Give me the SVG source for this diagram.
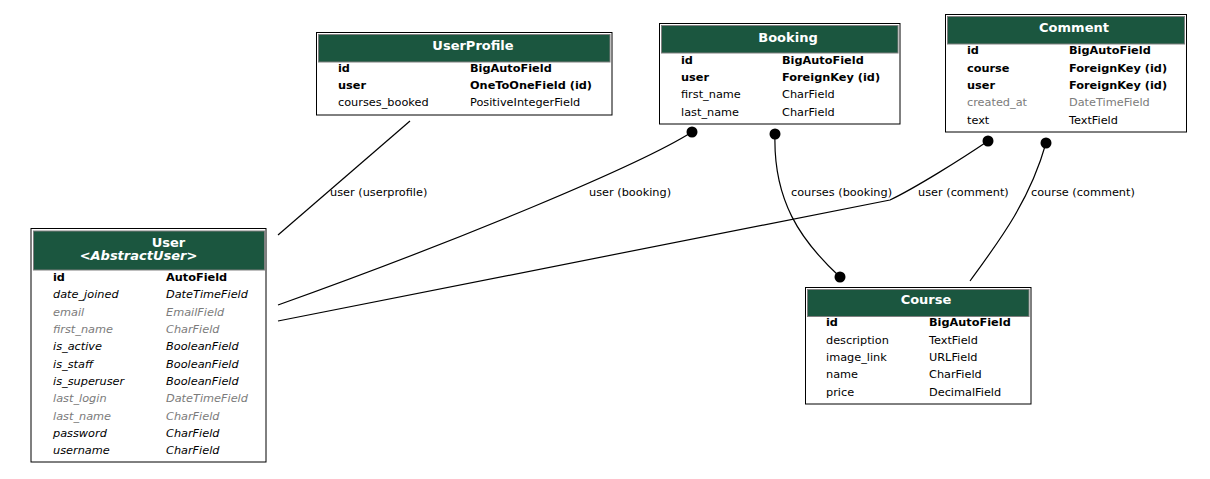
<svg xmlns="http://www.w3.org/2000/svg" width="1210" height="479" viewBox="0 0 1210 479">
<style>
text{font-family:"DejaVu Sans",Verdana,sans-serif;font-size:11.3px;fill:#000}
.t{font-size:13px;font-weight:bold;fill:#fff;text-anchor:middle}
.ti{font-size:13px;font-weight:bold;font-style:italic;fill:#fff;text-anchor:middle}
.b{font-weight:bold}
.g{fill:#7b7b7b}
.i{font-style:italic}
.box{fill:#fff;stroke:#000;stroke-width:1}
.hdr{fill:#1b563f;stroke:#7f7f7f;stroke-width:1}
.edge{fill:none;stroke:#000;stroke-width:1.2}
.lbl{font-size:11.3px}
</style>
<defs>
<marker id="dot" markerWidth="14" markerHeight="14" refX="7" refY="7" markerUnits="userSpaceOnUse"><circle cx="7" cy="7" r="5.5" fill="#000"/></marker>
</defs>
<rect width="1210" height="479" fill="#fff"/>

<g id="connectors">
<path class="edge" d="M410,121 L278,235"/>
<text class="lbl" x="330" y="196">user (userprofile)</text>
<path class="edge" d="M692,132 C640,165 460,240 278,305" marker-start="url(#dot)"/>
<text class="lbl" x="589" y="196">user (booking)</text>
<path class="edge" d="M988,141 C960,160 915,188 890,200 L278,321" marker-start="url(#dot)"/>
<text class="lbl" x="918" y="196">user (comment)</text>
<path class="edge" d="M775,134 C773,200 800,240 840,277" marker-start="url(#dot)" marker-end="url(#dot)"/>
<text class="lbl" x="791" y="196">courses (booking)</text>
<path class="edge" d="M1046,143 C1030,200 1000,240 970,281" marker-start="url(#dot)"/>
<text class="lbl" x="1031" y="196">course (comment)</text>
</g>

<g id="User">
<rect class="box" x="31" y="228.5" width="235" height="233.5"/>
<rect class="hdr" x="33.5" y="231" width="231" height="39"/>
<text class="t" x="168.5" y="247">User</text>
<text class="ti" x="138.5" y="260">&lt;AbstractUser&gt;</text>
<text class="b" x="53" y="281">id</text><text class="b" x="166" y="281">AutoField</text>
<text class="i" x="53" y="298">date_joined</text><text class="i" x="166" y="298">DateTimeField</text>
<text class="i g" x="53" y="316">email</text><text class="i g" x="166" y="316">EmailField</text>
<text class="i g" x="53" y="333">first_name</text><text class="i g" x="166" y="333">CharField</text>
<text class="i" x="53" y="350">is_active</text><text class="i" x="166" y="350">BooleanField</text>
<text class="i" x="53" y="368">is_staff</text><text class="i" x="166" y="368">BooleanField</text>
<text class="i" x="53" y="385">is_superuser</text><text class="i" x="166" y="385">BooleanField</text>
<text class="i g" x="53" y="402">last_login</text><text class="i g" x="166" y="402">DateTimeField</text>
<text class="i g" x="53" y="420">last_name</text><text class="i g" x="166" y="420">CharField</text>
<text class="i" x="53" y="437">password</text><text class="i" x="166" y="437">CharField</text>
<text class="i" x="53" y="454">username</text><text class="i" x="166" y="454">CharField</text>
</g>

<g id="UserProfile">
<rect class="box" x="316.5" y="32.5" width="295.5" height="82.5"/>
<rect class="hdr" x="318.5" y="34.5" width="291.5" height="27.5"/>
<text class="t" x="473" y="50">UserProfile</text>
<text class="b" x="338" y="72">id</text><text class="b" x="470" y="72">BigAutoField</text>
<text class="b" x="338" y="89">user</text><text class="b" x="470" y="89">OneToOneField (id)</text>
<text x="338" y="106">courses_booked</text><text x="470" y="106">PositiveIntegerField</text>
</g>

<g id="Booking">
<rect class="box" x="659.5" y="23.5" width="240.5" height="100.5"/>
<rect class="hdr" x="661.5" y="25.5" width="236.5" height="27.5"/>
<text class="t" x="788" y="42">Booking</text>
<text class="b" x="681" y="64">id</text><text class="b" x="782" y="64">BigAutoField</text>
<text class="b" x="681" y="81">user</text><text class="b" x="782" y="81">ForeignKey (id)</text>
<text x="681" y="98">first_name</text><text x="782" y="98">CharField</text>
<text x="681" y="116">last_name</text><text x="782" y="116">CharField</text>
</g>

<g id="Comment">
<rect class="box" x="945.5" y="14.5" width="241" height="117.5"/>
<rect class="hdr" x="947.5" y="16.5" width="237" height="27.5"/>
<text class="t" x="1074" y="32">Comment</text>
<text class="b" x="967" y="54">id</text><text class="b" x="1069" y="54">BigAutoField</text>
<text class="b" x="967" y="72">course</text><text class="b" x="1069" y="72">ForeignKey (id)</text>
<text class="b" x="967" y="89">user</text><text class="b" x="1069" y="89">ForeignKey (id)</text>
<text class="g" x="967" y="106">created_at</text><text class="g" x="1069" y="106">DateTimeField</text>
<text x="967" y="124">text</text><text x="1069" y="124">TextField</text>
</g>

<g id="Course">
<rect class="box" x="805.5" y="287.5" width="225.5" height="116.5"/>
<rect class="hdr" x="807.5" y="289.5" width="221.5" height="27"/>
<text class="t" x="926" y="304">Course</text>
<text class="b" x="826" y="326">id</text><text class="b" x="929" y="326">BigAutoField</text>
<text x="826" y="344">description</text><text x="929" y="344">TextField</text>
<text x="826" y="361">image_link</text><text x="929" y="361">URLField</text>
<text x="826" y="378">name</text><text x="929" y="378">CharField</text>
<text x="826" y="396">price</text><text x="929" y="396">DecimalField</text>
</g>
</svg>
